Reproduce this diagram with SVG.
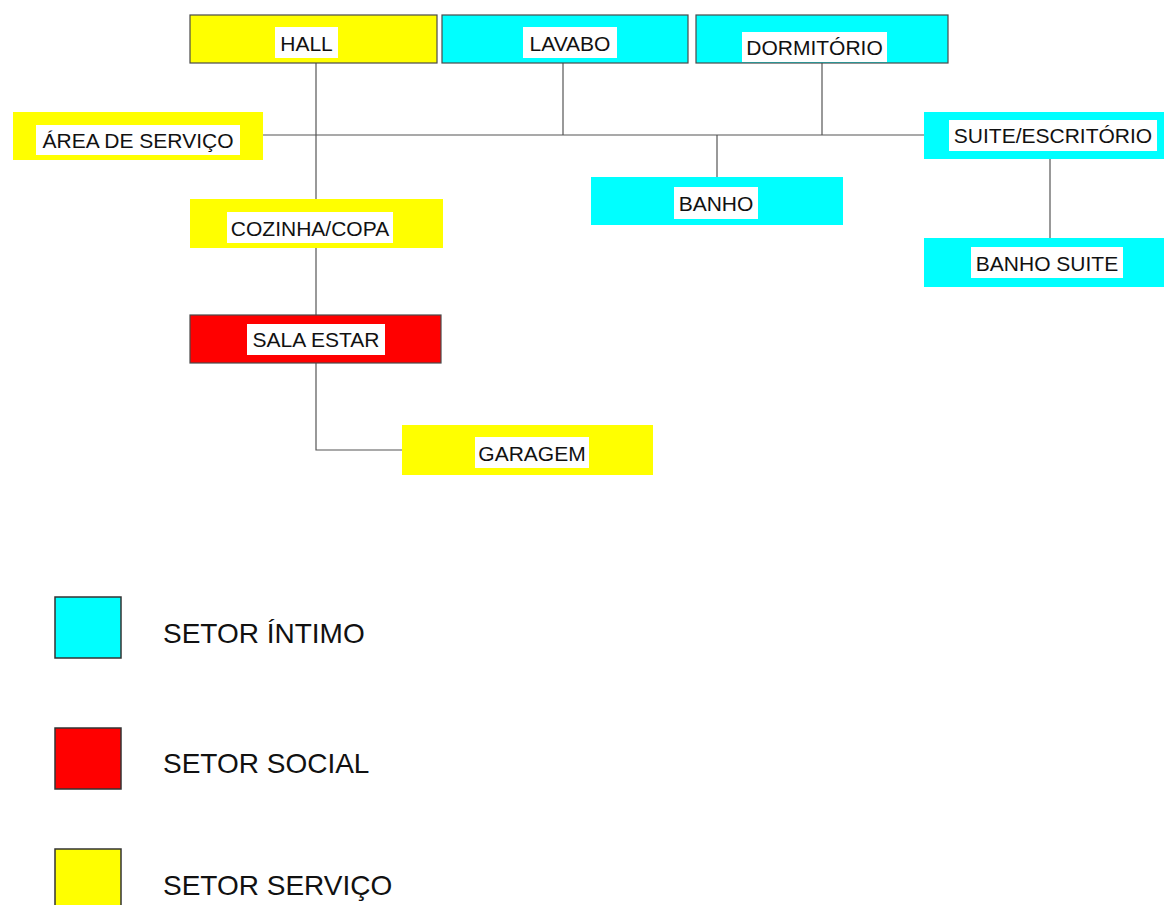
<svg xmlns="http://www.w3.org/2000/svg" width="1164" height="905" viewBox="0 0 1164 905">
<style>
.y{fill:#ffff00}
.c{fill:#00ffff}
.r{fill:#ff0000}
.b{stroke:#4a4a4a;stroke-width:1.2}
.lb{fill:#ffffff}
.t{font-family:"Liberation Sans",Arial,sans-serif;font-size:21px;fill:#111}
.lg{font-family:"Liberation Sans",Arial,sans-serif;font-size:28px;fill:#111}
.ln{stroke:#555;stroke-width:1.2;fill:none}
</style>
<rect width="1164" height="905" fill="#ffffff"/>
<g id="connectors">
<line class="ln" x1="263" y1="135" x2="925" y2="135"/>
<line class="ln" x1="316" y1="63" x2="316" y2="199"/>
<line class="ln" x1="316" y1="248" x2="316" y2="315"/>
<polyline class="ln" points="316,363 316,450 402,450"/>
<line class="ln" x1="563" y1="63" x2="563" y2="135"/>
<line class="ln" x1="822" y1="63" x2="822" y2="135"/>
<line class="ln" x1="717" y1="135" x2="717" y2="177"/>
<line class="ln" x1="1050" y1="159" x2="1050" y2="238"/>
</g>
<g id="hall">
<rect class="y b" x="190" y="15" width="247" height="48"/>
<rect class="lb" x="275" y="27" width="63" height="31"/>
<text class="t" x="306.5" y="51" text-anchor="middle">HALL</text>
</g>
<g id="lavabo">
<rect class="c b" x="442" y="15" width="246" height="48"/>
<rect class="lb" x="523" y="27" width="94" height="31"/>
<text class="t" x="570" y="51" text-anchor="middle">LAVABO</text>
</g>
<g id="dormitorio">
<rect class="c b" x="696" y="15" width="252" height="48"/>
<rect class="lb" x="742" y="32" width="145" height="30"/>
<text class="t" x="814.5" y="55" text-anchor="middle">DORMITÓRIO</text>
</g>
<g id="area-servico">
<rect class="y" x="13" y="112" width="250" height="48"/>
<rect class="lb" x="36" y="125" width="204" height="30"/>
<text class="t" x="138" y="148" text-anchor="middle">ÁREA DE SERVIÇO</text>
</g>
<g id="suite">
<rect class="c" x="924" y="112" width="240" height="47"/>
<rect class="lb" x="949" y="120" width="208" height="31"/>
<text class="t" x="1053" y="143" text-anchor="middle">SUITE/ESCRITÓRIO</text>
</g>
<g id="banho">
<rect class="c" x="591" y="177" width="252" height="48"/>
<rect class="lb" x="674" y="187" width="84" height="32"/>
<text class="t" x="716" y="211" text-anchor="middle">BANHO</text>
</g>
<g id="cozinha">
<rect class="y" x="190" y="199" width="253" height="49"/>
<rect class="lb" x="227" y="212" width="166" height="31"/>
<text class="t" x="310" y="236" text-anchor="middle">COZINHA/COPA</text>
</g>
<g id="banho-suite">
<rect class="c" x="924" y="238" width="240" height="49"/>
<rect class="lb" x="971" y="247" width="152" height="31"/>
<text class="t" x="1047" y="271" text-anchor="middle">BANHO SUITE</text>
</g>
<g id="sala-estar">
<rect class="r b" x="190" y="315" width="251" height="48"/>
<rect class="lb" x="247" y="324" width="138" height="31"/>
<text class="t" x="316" y="347" text-anchor="middle">SALA ESTAR</text>
</g>
<g id="garagem">
<rect class="y" x="402" y="425" width="251" height="50"/>
<rect class="lb" x="475" y="437" width="114" height="31"/>
<text class="t" x="532" y="461" text-anchor="middle">GARAGEM</text>
</g>
<g id="legend">
<rect class="c" x="55" y="597" width="66" height="61" stroke="#333" stroke-width="1.5"/>
<text class="lg" x="163" y="643">SETOR ÍNTIMO</text>
<rect class="r" x="55" y="728" width="66" height="61" stroke="#333" stroke-width="1.5"/>
<text class="lg" x="163" y="773">SETOR SOCIAL</text>
<rect class="y" x="55" y="849" width="66" height="61" stroke="#333" stroke-width="1.5"/>
<text class="lg" x="163" y="895">SETOR SERVIÇO</text>
</g>
</svg>
